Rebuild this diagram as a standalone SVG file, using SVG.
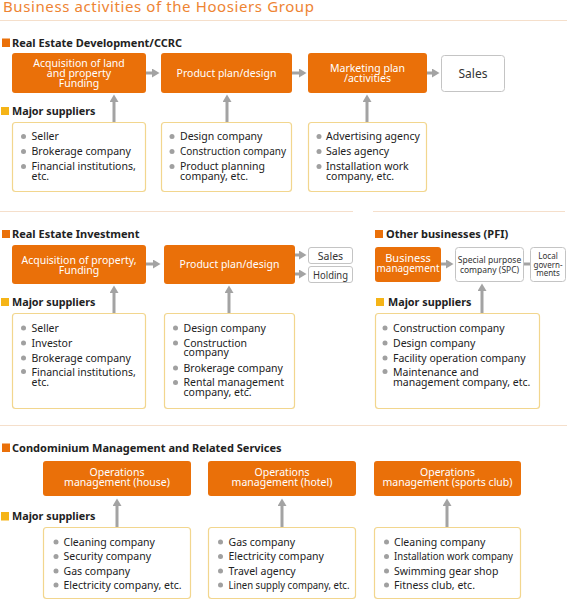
<svg xmlns="http://www.w3.org/2000/svg" width="567" height="608" viewBox="0 0 567 608">
<style>
text{font-family:"Noto Sans","Open Sans",sans-serif;}
.title{font-size:15px;fill:#ee8433;letter-spacing:0.6px;}
.hdr{font-size:11px;font-weight:bold;fill:#222;}
.sup{font-size:10.8px;font-weight:bold;fill:#222;}
.ob{fill:#ea7009;}
.wb{fill:#fff;stroke:#c4c4c4;stroke-width:1;}
.sb{fill:#fff;stroke:#f2d68e;stroke-width:1.2;}
.ot{font-size:10.5px;fill:#fff;text-anchor:middle;}
.li{font-size:10.5px;fill:#222;}
.bul{fill:#a0a0a0;}
.sq{fill:#ea7009;}
.ysq{fill:#f5b417;}
.sep{stroke:#f5dfcb;stroke-width:1;}
.ar{stroke:#a3a3a3;stroke-width:3;fill:none;marker-end:url(#ah);}
.gt{fill:#333;text-anchor:middle;}
</style>
<defs>
<marker id="ah" markerUnits="userSpaceOnUse" markerWidth="8" markerHeight="9" refX="2" refY="4.5" orient="auto">
<path d="M0,0 L7.5,4.5 L0,9 z" fill="#a3a3a3"/>
</marker>
</defs>
<rect width="567" height="608" fill="#fff"/>
<text class="title" x="3" y="12">Business activities of the Hoosiers Group</text>
<line class="sep" x1="0" y1="20.5" x2="567" y2="20.5"/>
<line class="sep" x1="0" y1="211.5" x2="353" y2="211.5"/>
<line class="sep" x1="373" y1="211.5" x2="565" y2="211.5"/>
<line class="sep" x1="0" y1="425.5" x2="567" y2="425.5"/>

<!-- section headers -->
<g id="hdr-dev"><rect class="sq" x="2" y="38.5" width="8" height="8.5"/><text class="hdr" x="12" y="46.5">Real Estate Development/CCRC</text></g>
<g id="hdr-sup1"><rect class="ysq" x="1" y="107" width="8" height="8"/><text class="sup" x="12" y="115">Major suppliers</text></g>
<g id="hdr-inv"><rect class="sq" x="2" y="230" width="8" height="8"/><text class="hdr" x="12" y="238">Real Estate Investment</text></g>
<g id="hdr-sup2"><rect class="ysq" x="1" y="298" width="8" height="8"/><text class="sup" x="12" y="306">Major suppliers</text></g>
<g id="hdr-pfi"><rect class="sq" x="375" y="230" width="8" height="8"/><text class="hdr" x="386" y="238">Other businesses (PFI)</text></g>
<g id="hdr-sup3"><rect class="ysq" x="376" y="298" width="8" height="8"/><text class="sup" x="388" y="306">Major suppliers</text></g>
<g id="hdr-condo"><rect class="sq" x="2" y="443.5" width="8" height="8.5"/><text class="hdr" x="12" y="451.5">Condominium Management and Related Services</text></g>
<g id="hdr-sup4"><rect class="ysq" x="1" y="512" width="8" height="8.5"/><text class="sup" x="12" y="519.5">Major suppliers</text></g>

<!-- connectors -->
<g id="connectors">
<line class="ar" x1="146" y1="73" x2="154" y2="73"/>
<line class="ar" x1="292" y1="73" x2="301" y2="73"/>
<line class="ar" x1="427" y1="73" x2="434" y2="73"/>
<line class="ar" x1="114" y1="122" x2="114" y2="100"/>
<line class="ar" x1="227" y1="122" x2="227" y2="100"/>
<line class="ar" x1="367" y1="122" x2="367" y2="100"/>
<line class="ar" x1="146" y1="264" x2="155" y2="264"/>
<line class="ar" x1="295" y1="255" x2="301" y2="255"/>
<line class="ar" x1="295" y1="274" x2="301" y2="274"/>
<line class="ar" x1="114" y1="313" x2="114" y2="291"/>
<line class="ar" x1="229" y1="313" x2="229" y2="291"/>
<line class="ar" x1="441" y1="264" x2="448" y2="264"/>
<line stroke="#a3a3a3" stroke-width="3" x1="524" y1="264" x2="530" y2="264"/>
<line class="ar" x1="482" y1="313" x2="482" y2="289"/>
<line class="ar" x1="117" y1="527" x2="117" y2="504"/>
<line class="ar" x1="282" y1="527" x2="282" y2="504"/>
<line class="ar" x1="447" y1="527" x2="447" y2="504"/>
</g>

<!-- top section -->
<g id="dev-acq"><rect class="ob" x="12" y="53" width="134" height="40" rx="3"/>
<text class="ot" x="79" y="66.5">Acquisition of land</text><text class="ot" x="79" y="76.5">and property</text><text class="ot" x="79" y="87">Funding</text></g>
<g id="dev-plan"><rect class="ob" x="161" y="53" width="131" height="40" rx="3"/>
<text class="ot" x="226.5" y="77">Product plan/design</text></g>
<g id="dev-mkt"><rect class="ob" x="308" y="53" width="119" height="40" rx="3"/>
<text class="ot" x="367.5" y="71.5">Marketing plan</text><text class="ot" x="367.5" y="81.5">/activities</text></g>
<g id="dev-sales"><rect class="wb" x="441.5" y="55.5" width="63" height="36" rx="3"/>
<text class="gt" x="473" y="77.5" style="font-size:12px">Sales</text></g>

<g id="dev-sup-a"><rect class="sb" x="12.5" y="122.5" width="133" height="69" rx="3"/>
<circle class="bul" cx="23.5" cy="136.5" r="2.5"/><text class="li" x="31.5" y="140">Seller</text>
<circle class="bul" cx="23.5" cy="151.5" r="2.5"/><text class="li" x="31.5" y="155">Brokerage company</text>
<circle class="bul" cx="23.5" cy="166.5" r="2.5"/><text class="li" x="31.5" y="170">Financial institutions,</text><text class="li" x="31.5" y="179.5">etc.</text></g>
<g id="dev-sup-b"><rect class="sb" x="161.5" y="122.5" width="130" height="69" rx="3"/>
<circle class="bul" cx="172" cy="136.5" r="2.5"/><text class="li" x="180" y="140">Design company</text>
<circle class="bul" cx="172" cy="151.5" r="2.5"/><text class="li" x="180" y="155" textLength="106" lengthAdjust="spacingAndGlyphs">Construction company</text>
<circle class="bul" cx="172" cy="166.5" r="2.5"/><text class="li" x="180" y="170">Product planning</text><text class="li" x="180" y="179.5">company, etc.</text></g>
<g id="dev-sup-c"><rect class="sb" x="308.5" y="122.5" width="118" height="69" rx="3"/>
<circle class="bul" cx="319" cy="136.5" r="2.5"/><text class="li" x="326" y="140">Advertising agency</text>
<circle class="bul" cx="319" cy="151.5" r="2.5"/><text class="li" x="326" y="155">Sales agency</text>
<circle class="bul" cx="319" cy="166.5" r="2.5"/><text class="li" x="326" y="170">Installation work</text><text class="li" x="326" y="179.5">company, etc.</text></g>

<!-- middle section -->
<g id="inv-acq"><rect class="ob" x="12" y="245" width="134" height="39" rx="3"/>
<text class="ot" x="79" y="264">Acquisition of property,</text><text class="ot" x="79" y="274">Funding</text></g>
<g id="inv-plan"><rect class="ob" x="164" y="245" width="131" height="39" rx="3"/>
<text class="ot" x="229.5" y="268">Product plan/design</text></g>
<g id="inv-sales"><rect class="wb" x="308.5" y="247.5" width="44" height="16" rx="2.5"/>
<text class="gt" x="330.5" y="259.5" style="font-size:10.5px">Sales</text></g>
<g id="inv-hold"><rect class="wb" x="308.5" y="266.5" width="44" height="16" rx="2.5"/>
<text class="gt" x="330.5" y="278.5" style="font-size:10.5px" textLength="35" lengthAdjust="spacingAndGlyphs">Holding</text></g>

<g id="inv-sup-a"><rect class="sb" x="12.5" y="313.5" width="133" height="95" rx="3"/>
<circle class="bul" cx="23.5" cy="328" r="2.5"/><text class="li" x="31.5" y="331.5">Seller</text>
<circle class="bul" cx="23.5" cy="343" r="2.5"/><text class="li" x="31.5" y="346.5">Investor</text>
<circle class="bul" cx="23.5" cy="358" r="2.5"/><text class="li" x="31.5" y="361.5">Brokerage company</text>
<circle class="bul" cx="23.5" cy="371.5" r="2.5"/><text class="li" x="31.5" y="375.5">Financial institutions,</text><text class="li" x="31.5" y="386">etc.</text></g>
<g id="inv-sup-b"><rect class="sb" x="164.5" y="313.5" width="130" height="95" rx="3"/>
<circle class="bul" cx="175.5" cy="328" r="2.5"/><text class="li" x="183.5" y="331.5">Design company</text>
<circle class="bul" cx="175.5" cy="343" r="2.5"/><text class="li" x="183.5" y="346.5">Construction</text><text class="li" x="183.5" y="356">company</text>
<circle class="bul" cx="175.5" cy="368" r="2.5"/><text class="li" x="183.5" y="371.5">Brokerage company</text>
<circle class="bul" cx="175.5" cy="382.5" r="2.5"/><text class="li" x="183.5" y="386">Rental management</text><text class="li" x="183.5" y="396">company, etc.</text></g>

<g id="pfi-biz"><rect class="ob" x="375" y="247" width="66" height="35" rx="3"/>
<text class="ot" x="408" y="261.5" style="font-size:11px">Business</text><text class="ot" x="408" y="272" style="font-size:11px" textLength="63" lengthAdjust="spacingAndGlyphs">management</text></g>
<g id="pfi-spc"><rect class="wb" x="455.5" y="247.5" width="68" height="34" rx="3"/>
<text class="gt" x="489.5" y="263" style="font-size:8.5px">Special purpose</text><text class="gt" x="489.5" y="273" style="font-size:8.5px">company (SPC)</text></g>
<g id="pfi-local"><rect class="wb" x="530.5" y="247.5" width="35" height="34" rx="3"/>
<text class="gt" x="548" y="259" style="font-size:8px">Local</text><text class="gt" x="548" y="267.5" style="font-size:8px">govern-</text><text class="gt" x="548" y="276" style="font-size:8px">ments</text></g>
<g id="pfi-sup"><rect class="sb" x="375.5" y="313.5" width="164" height="95" rx="3"/>
<circle class="bul" cx="385" cy="328" r="2.5"/><text class="li" x="393" y="331.5">Construction company</text>
<circle class="bul" cx="385" cy="343" r="2.5"/><text class="li" x="393" y="346.5">Design company</text>
<circle class="bul" cx="385" cy="358" r="2.5"/><text class="li" x="393" y="361.5">Facility operation company</text>
<circle class="bul" cx="385" cy="371.5" r="2.5"/><text class="li" x="393" y="375.5">Maintenance and</text><text class="li" x="393" y="386">management company, etc.</text></g>

<!-- bottom section -->
<g id="op-house"><rect class="ob" x="43" y="461" width="148" height="35" rx="3"/>
<text class="ot" x="117" y="475.5">Operations</text><text class="ot" x="117" y="485.5">management (house)</text></g>
<g id="op-hotel"><rect class="ob" x="208" y="461" width="148" height="35" rx="3"/>
<text class="ot" x="282" y="475.5">Operations</text><text class="ot" x="282" y="485.5">management (hotel)</text></g>
<g id="op-sports"><rect class="ob" x="374" y="461" width="147" height="35" rx="3"/>
<text class="ot" x="447.5" y="475.5">Operations</text><text class="ot" x="447.5" y="485.5">management (sports club)</text></g>

<g id="op-sup-house"><rect class="sb" x="43.5" y="527.5" width="147" height="71" rx="3"/>
<circle class="bul" cx="56" cy="542" r="2.5"/><text class="li" x="63.5" y="545.5">Cleaning company</text>
<circle class="bul" cx="56" cy="556.5" r="2.5"/><text class="li" x="63.5" y="560">Security company</text>
<circle class="bul" cx="56" cy="571" r="2.5"/><text class="li" x="63.5" y="574.5">Gas company</text>
<circle class="bul" cx="56" cy="585" r="2.5"/><text class="li" x="63.5" y="588.5">Electricity company, etc.</text></g>
<g id="op-sup-hotel"><rect class="sb" x="208.5" y="527.5" width="147" height="71" rx="3"/>
<circle class="bul" cx="220.5" cy="542" r="2.5"/><text class="li" x="228.5" y="545.5">Gas company</text>
<circle class="bul" cx="220.5" cy="556.5" r="2.5"/><text class="li" x="228.5" y="560">Electricity company</text>
<circle class="bul" cx="220.5" cy="571" r="2.5"/><text class="li" x="228.5" y="574.5">Travel agency</text>
<circle class="bul" cx="220.5" cy="585" r="2.5"/><text class="li" x="228.5" y="588.5" textLength="121" lengthAdjust="spacingAndGlyphs">Linen supply company, etc.</text></g>
<g id="op-sup-sports"><rect class="sb" x="374.5" y="527.5" width="146" height="71" rx="3"/>
<circle class="bul" cx="386.5" cy="542" r="2.5"/><text class="li" x="394" y="545.5">Cleaning company</text>
<circle class="bul" cx="386.5" cy="556.5" r="2.5"/><text class="li" x="394" y="560" textLength="119" lengthAdjust="spacingAndGlyphs">Installation work company</text>
<circle class="bul" cx="386.5" cy="571" r="2.5"/><text class="li" x="394" y="574.5">Swimming gear shop</text>
<circle class="bul" cx="386.5" cy="585" r="2.5"/><text class="li" x="394" y="588.5">Fitness club, etc.</text></g>
</svg>
